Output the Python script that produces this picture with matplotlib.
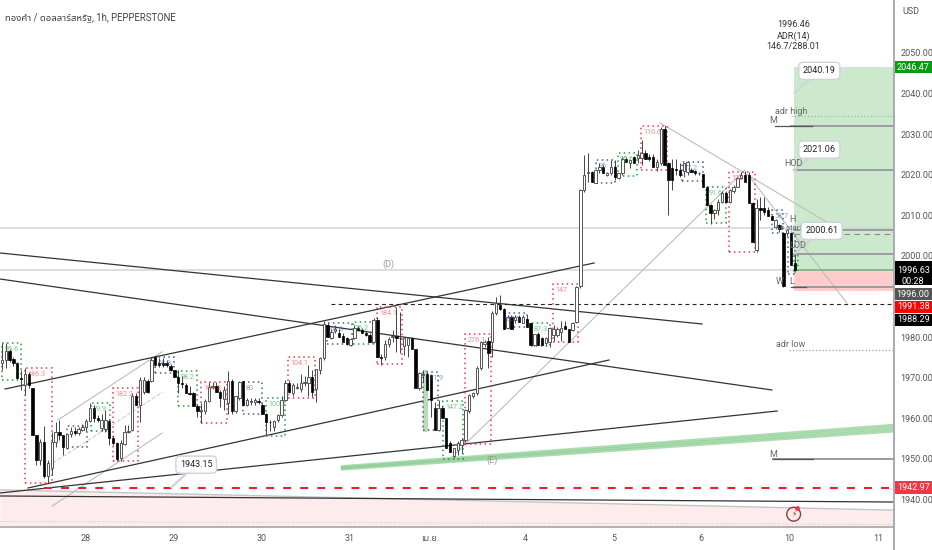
import matplotlib
matplotlib.use('Agg')
import matplotlib.pyplot as plt
from matplotlib.patches import Rectangle, Ellipse
import numpy as np
import logging

logging.getLogger('matplotlib.font_manager').setLevel(logging.ERROR)
plt.rcParams['font.family'] = ['Roboto', 'Noto Sans Thai', 'IBM Plex Sans Thai', 'DejaVu Sans']

# candles, one (open, high, low, close) per hour
candles = [
    (1973.6,1978.5,1971.9,1974.4),(1974.4,1978.5,1972.3,1976.7),(1976.7,1977,1974,1974.4),(1974.6,1975,1973,1973.6),
    (1973.6,1974,1969.8,1969.9),(1969.9,1971.9,1967,1969.6),(1968.2,1972.3,1965.8,1970.9),(1970.9,1971.5,1967.4,1968.2),
    (1967.4,1967.6,1955.9,1955.9),(1955.9,1956,1948.6,1949.8),(1949.8,1955,1948.6,1954.3),(1954.3,1958.1,1945.2,1945.7),
    (1945.8,1949.8,1944,1949.1),(1947.7,1956.7,1946,1954.1),(1954.1,1959.2,1953,1956.7),(1956.7,1959.6,1954.7,1955.9),
    (1955.9,1955.9,1951,1953),(1952.6,1956.2,1952.4,1956.2),(1956.2,1958,1955.5,1957),(1957,1958,1956,1956.3),
    (1956.5,1958,1956,1957.3),(1957.1,1958.5,1956.8,1958),(1957.8,1959.8,1957,1959.4),(1959.4,1963.9,1959.2,1962.5),
    (1962.5,1963.2,1959.2,1960),(1960.2,1960.8,1959.2,1959.6),(1957.6,1961,1957,1959.6),(1957.3,1962.1,1956.7,1959.6),
    (1959.4,1959.8,1953.4,1955.1),(1955.1,1955.9,1953.4,1954),(1953.9,1954.2,1949.4,1949.9),(1950.2,1954.7,1949.6,1954),
    (1953.7,1958.4,1953.4,1956.7),(1956.6,1958.4,1956.3,1956.9),(1957.1,1966.2,1956.9,1965.4),(1965.4,1966.2,1963.2,1963.3),
    (1963.3,1970.1,1959.2,1969.5),(1966.6,1970.3,1966,1969.5),(1969.1,1969.8,1966.2,1966.4),(1969.1,1975,1968.9,1974.5),
    (1975,1975.4,1973,1973.2),(1973.6,1974.8,1972.7,1973.2),(1973.6,1974.8,1972.7,1973.2),(1973.6,1974.4,1972.7,1973.2),
    (1972.9,1973.5,1971.7,1971.8),(1971.8,1972,1970.2,1970.3),(1970.3,1971.9,1966.3,1968.6),(1968.6,1970.5,1967.5,1968.5),
    (1968.2,1968.6,1966.2,1966.3),(1966.3,1968,1965.8,1966),(1966.2,1966.5,1963,1963),(1963,1963.5,1960.4,1961.7),
    (1961.7,1963.7,1958.8,1962.1),(1961.7,1964.8,1961,1964.4),(1964.4,1969,1964,1967.8),(1967.7,1968.9,1967.3,1968),
    (1968,1968.9,1966.5,1966.6),(1966.6,1967,1962.9,1965),(1964.8,1968,1962,1967),(1963.7,1971.7,1961,1969.2),
    (1969.2,1969.8,1961,1961.9),(1961.7,1965.6,1961.3,1965.4),(1965,1969.1,1964.5,1969),(1969.2,1969.3,1963.3,1963.3),
    (1963.3,1965,1963,1964.5),(1964,1965,1963.3,1964.3),(1964.1,1965,1963.2,1964.5),(1964.3,1965,1963.5,1964),
    (1963.3,1963.8,1961.2,1961.2),(1961.2,1961.4,1955.9,1959.2),(1959.2,1959.6,1956.8,1959),(1958,1959.5,1957,1959.4),
    (1959.6,1961.2,1959.2,1960.8),(1960.8,1965.4,1960.4,1964.5),(1964.5,1969.5,1964.3,1968.6),(1968.6,1969.5,1966.2,1966.6),
    (1966.2,1968.6,1965.6,1968.2),(1967.6,1968.6,1967.2,1967.8),(1967.2,1970.9,1966.6,1968.8),(1968.6,1970.5,1968,1968.9),
    (1968.6,1973.2,1965.5,1970.3),(1970.3,1971.9,1965.3,1966.6),(1967.2,1972.1,1964.1,1972.1),(1972,1975.2,1971,1974.8),
    (1974.8,1984,1974.5,1983.2),(1983,1983.6,1980.1,1980.1),(1979.7,1982,1979.5,1981.4),(1981.6,1983,1981,1982),
    (1981,1982,1980,1980.1),(1980.4,1981,1978.9,1978.9),(1979.7,1980,1978,1978.3),(1978.1,1979.6,1977.8,1979.5),
    (1979.7,1983,1979.5,1982.2),(1982.2,1982.8,1981.5,1981.8),(1981.8,1982.3,1981,1981.1),(1981.1,1981.5,1980.4,1980.5),
    (1980.5,1981,1978.9,1978.9),(1978.9,1984.8,1978.5,1984.2),(1984.2,1984.9,1975.2,1975.2),(1975.2,1975.8,1973.1,1974.8),
    (1975.2,1979.4,1974.5,1978.3),(1978.3,1980,1977.5,1979.5),(1980,1981.8,1978.9,1980.4),(1980.3,1987.5,1976.4,1979.7),
    (1979.9,1986.3,1976,1979.7),(1977.8,1979.9,1975.5,1979.7),(1978.1,1980,1975,1979.9),(1979.7,1980,1977,1977),
    (1977.2,1977.2,1967.4,1967.4),(1967.4,1971.5,1967,1971.1),(1970.7,1971.9,1969,1970.9),(1970.9,1971.4,1967,1967),
    (1970.7,1971,1960.4,1964.5),(1962.5,1964,1957.2,1957.2),(1957.2,1964.5,1956.8,1962.5),(1962.5,1963,1960,1960),
    (1960,1960,1952.6,1952.6),(1953.9,1954.5,1951.8,1951.8),(1950.7,1952.6,1950.3,1952.6),(1952.2,1954.5,1951,1953.9),
    (1953.4,1955.2,1951.5,1954.7),(1954.7,1962.2,1954.3,1962.1),(1961.7,1966,1961.3,1965.8),(1965.5,1966.6,1965,1966.2),
    (1966.2,1973,1965.8,1972.3),(1972.3,1979,1972,1978.7),(1978.3,1979.2,1977.5,1978.9),(1979.1,1980,1972.3,1976),
    (1978.9,1986.4,1975,1985.9),(1985.9,1990,1985.5,1988.3),(1988,1990.4,1986.8,1986.9),(1986.9,1987.3,1981.9,1981.9),
    (1982.2,1985.5,1982,1985),(1985,1985.5,1981.9,1981.9),(1984.2,1985.5,1983.5,1985),(1985,1985.5,1983.8,1983.8),
    (1983.6,1985.5,1983.5,1985),(1984.6,1985.4,1982.6,1982.6),(1983.4,1983.6,1978.1,1978.1),(1978.1,1980.8,1977.8,1980.8),
    (1980.8,1981.2,1978.1,1978.1),(1979.7,1980,1978.1,1978.1),(1978.5,1980,1978,1979.7),(1978.9,1982.6,1977.6,1982.2),
    (1980.5,1983,1979,1981.9),(1980.5,1982.5,1980,1981.9),(1981.4,1984,1979,1982.2),(1982.8,1984,1981.9,1981.9),
    (1981.9,1982,1978.9,1978.9),(1981.8,1983.8,1981.5,1983.6),(1983.8,1992.5,1983.5,1992.4),(1992.5,2016.4,1992.2,2016.3),
    (2016.3,2024.9,2015.8,2020),(2020.4,2025.3,2018.3,2020.8),(2020.8,2021,2018.3,2018.3),(2018.1,2021.4,2017.9,2021.2),
    (2021.2,2023,2020.5,2021.8),(2021.8,2022.4,2020.4,2020.4),(2020,2020.8,2019.7,2020.5),(2020.4,2023.6,2020,2021.8),
    (2021.8,2023.6,2018.7,2019.5),(2019.3,2020.5,2019,2020.4),(2020.4,2024.5,2020,2024),(2023.8,2024.4,2023.2,2023.2),
    (2022.8,2024,2021.6,2023.6),(2024.3,2024.6,2022.9,2023),(2024.1,2026.1,2023,2024.9),(2024.1,2028.6,2022.5,2025.3),
    (2025.3,2026,2023.8,2023.8),(2024.4,2025,2023.4,2024),(2024.5,2025,2022,2022),(2022,2024,2021,2023.2),
    (2022.8,2031.8,2022.5,2031.4),(2031.4,2032,2022.4,2022.4),(2022.8,2023.2,2010.1,2018.7),(2021.6,2024,2016.3,2018.7),
    (2021.5,2024,2020,2021.2),(2021.2,2022.8,2019.5,2020),(2021,2023,2019.5,2023),(2020.8,2023.4,2020,2023.2),
    (2021.2,2021.6,2020.6,2020.7),(2020.9,2021.2,2020,2020.4),(2020.4,2020.8,2020,2020.5),(2020.1,2020.3,2016.9,2017),
    (2017,2017.3,2012.6,2012.6),(2012.6,2012.8,2008,2010.7),(2010.7,2011.5,2009,2011.3),(2011.3,2014,2010,2013.4),
    (2013.4,2016,2013,2015.6),(2015.6,2016,2013.4,2013.4),(2013.4,2016.6,2013,2016.3),(2015.9,2017.5,2015.6,2017.1),
    (2017.1,2019.4,2016.9,2019.1),(2019.1,2020.6,2018.9,2020),(2020,2021,2018.3,2018.3),(2020,2020.8,2013,2013),
    (2013,2013.2,2003.5,2003.5),(2001.5,2014,2001,2011.7),(2011.7,2014.6,2008.9,2011.3),(2011.7,2014.6,2010,2010.9),
    (2011.3,2012,2009.8,2009.8),(2009.8,2010,2008.8,2008.9),(2007.2,2009.2,2006.8,2008.9),(2007.6,2008,2006,2006.6),
    (2005.6,2005.8,1992.4,1992.5),(2005.6,2006.6,2005,2006.4),(2005.6,2005.8,1997.8,1997.8),(1998.2,2000.6,1996.2,1996.6),
]

# bar0, bar1, price low, price high, colour key, label
boxes = [
    (0,5,1969.5,1978.6,'g','96.6'),(6,13,1944.1,1972.4,'r','186.3'),(17,22.2,1953,1958.1,'b',''),
    (23.2,28.2,1956.9,1963.8,'g','79.9'),(29,35.5,1949.5,1967.5,'r','182.2'),(40,44.9,1971.2,1975.1,'b','68.8'),
    (46,50.9,1963.1,1971.7,'g','98.2'),(52,58.7,1958.9,1969,'r','104.8'),(62.9,67.9,1961.1,1969,'b','80'),
    (69,73.9,1955.7,1965,'g','100.2'),(74.7,81.7,1965,1975.1,'r','104.1'),(84.9,91.4,1978.3,1983.5,'b','64.6'),
    (91.6,96.9,1978.3,1983.7,'g','76.2'),(97.9,104.4,1973.4,1987.4,'r','184.1'),(109.9,113.8,1957.1,1971.4,'b','131.9'),
    (115.1,120.4,1950,1964.3,'g','147.2'),(120.9,127.7,1953.7,1980.8,'r','276.1'),(131.1,137.1,1982.5,1986,'b','85.5'),
    (138.1,143.1,1977.8,1983.5,'g','87.3'),(143.9,150.4,1978.8,1993.1,'r','147'),(155.1,160.1,2018,2023.6,'b','96'),
    (160.8,165.8,2019.7,2025.4,'g','95.6'),(166.8,173.6,2021.2,2032,'r','110.6'),(177.5,183,2018.5,2023.2,'b','77.2'),
    (183.8,189,2008.1,2017,'g','91.6'),(189.8,196.6,2001,2020.7,'r','122'),(201,203.9,2005.7,2011.3,'b','58.7'),
    (205.2,207,1995.6,2005.7,'b',''),(206.8,207.8,1996.1,2000.7,'g',''),
]
box_colors = {'g': '#1f9e3a', 'r': '#f2364a', 'b': '#3f5f9e'}

# black trend lines: bar0, price0, bar1, price1
trend_lines = [
    (-0.5,2000.74,182.8,1983.25),(-0.5,1994.33,201,1967.0),(0.8,1967.24,154.6,1998.28),
    (6.8,1942.86,158.5,1974.38),(-0.5,1941.63,202.4,1961.82),(-0.5,1940.89,232.9,1939.4),
]
# thin grey drawings
grey_lines = [
    (14.6,1959.6,41.8,1976.4),(13.1,1938.4,41.8,1956.4),(117,1950,194,2021.2),
    (171.8,2032.8,218.8,2006.4),(194.8,2020,220.6,1988.4),
]
fork_mid = (13.3,1949,42,1966.5)

y_ticks = [1940, 1950, 1960, 1970, 1980, 2000, 2010, 2020, 2030, 2040, 2050]
y_tick_labels = ['1940.00','1950.00','1960.00','1970.00','1980.00','2000.00','2010.00','2020.00','2030.00','2040.00','2050.00']
x_ticks = [21.9, 44.9, 67.9, 90.9, 111.7, 136.7, 159.7, 182.5, 205.7, 228.7]
x_tick_labels = ['28', '29', '30', '31', 'เม.ย.', '4', '5', '6', '10', '11']

tp_price, sl_price, entry_price = 2046.47, 1991.38, 1996.0
last_price, dash_price, red_price = 1996.63, 1988.29, 1942.97

fig = plt.figure(figsize=(9.32, 5.5), dpi=100)
ax = fig.add_axes([0, 23 / 550, 894 / 932, 527 / 550])
ax.set_xlim(-0.52, 232.9)
ax.set_ylim(1933.25, 2063.05)

# position box
ax.add_patch(Rectangle((206.9, entry_price), 26, tp_price - entry_price, fc='#cde9cd', ec='none', zorder=1))
ax.add_patch(Rectangle((206.9, sl_price), 26, entry_price - sl_price, fc='#ffcccc', ec='none', zorder=1))

# pink band at the bottom
band_x = np.array([-0.52, 232.9])
band_top = np.array([1942.4, 1937.4])
ax.fill_between(band_x, band_top, 1933.5, color='#fdecec', lw=0, zorder=1)
ax.plot(band_x, band_top, color='#c4c4c4', lw=1, zorder=2)
ax.plot(band_x, [1934.6, 1933.9], color='#e0d0d0', lw=0.6, ls='--', zorder=2)

# long grey levels
for p in [2006.9, 1996.55]:
    ax.axhline(p, color='#d4d4d4', lw=1.1, zorder=2)

for b0, p0, b1, p1 in grey_lines:
    ax.plot([b0, b1], [p0, p1], color='#bdbdbd', lw=0.8, zorder=2)
ax.plot(fork_mid[0::2], fork_mid[1::2], color='#d0d0d0', lw=0.8, ls='--', zorder=2)

# green band, three strokes fanning out slightly
for off0, off1 in [(-0.3, -0.7), (0, 0), (0.3, 0.7)]:
    ax.plot([88.5, 232.9], [1947.8 + off0, 1957.6 + off1], color='#8fcf95', lw=2.2, alpha=0.75,
            solid_capstyle='butt', zorder=2)

for b0, p0, b1, p1 in trend_lines:
    ax.plot([b0, b1], [p0, p1], color='#333333', lw=0.9, zorder=3)

ax.plot([85.9, 232.9], [dash_price, dash_price], color='#222222', lw=0.8, ls=(0, (3.5, 3)), zorder=3)
ax.plot([11.0, 232.9], [red_price, red_price], color='#ee1c30', lw=1.5, ls=(0, (3.8, 4.4)), zorder=3)

# green tinted bar in front of the sell-off
ax.add_patch(Rectangle((109.9, 1956.9), 1.1, 15, fc='#b9dcb9', ec='#9dca9d', lw=0.4, zorder=3))

for b0, b1, lo, hi, key, label in boxes:
    c = box_colors[key]
    ax.add_patch(Rectangle((b0, lo), b1 - b0, hi - lo, fc='none', ec=c, lw=1.1, ls=(0, (1, 2.2)), zorder=4))
    if label:
        ax.text(b0 + 0.6, hi - 0.7, label, color=c, fontsize=5.2, alpha=0.6, va='top', zorder=6)

# candles
o, h, l, c = np.array(candles).T
bars = np.arange(len(candles))
up = c >= o
ax.vlines(bars, l, h, color='#444444', lw=0.7, zorder=5)
ax.bar(bars[up], (c - o)[up], bottom=o[up], width=0.62, fc='white', ec='#555555', lw=0.7, zorder=5)
ax.bar(bars[~up], (o - c)[~up], bottom=c[~up], width=0.62, fc='black', ec='black', lw=0.5, zorder=5)

# levels inside the position box
for p, b0 in [(2032.1, 206), (2021.06, 206.9), (2006.4, 206.9), (2000.61, 206.9), (1992.4, 206.9), (1949.9, 201.4)]:
    ax.plot([b0, 232.9], [p, p], color='#9b9ba0', lw=1.4, zorder=4)
ax.plot([206.9, 232.9], [1996.5, 1996.5], color='#7fae7f', lw=1.2, zorder=4)
ax.plot([206.9, 232.9], [2005.4, 2005.4], color='#8a8a8a', lw=0.8, ls=(0, (5, 4)), zorder=4)
for b0, b1, p in [(201.8, 211.5, 2032.1), (206, 210, 1992.4), (201.4, 211.7, 1949.9)]:
    ax.plot([b0, b1], [p, p], color='#555555', lw=0.9, zorder=5)
ax.plot([206, 232.9], [2034.4, 2034.4], color='#b0b0b0', lw=0.9, ls=':', zorder=4)
ax.plot([205.6, 232.9], [1976.85, 1976.85], color='#a0a0a0', lw=0.9, ls=':', zorder=4)

lab = dict(color='#666666', fontsize=6.5, ha='left', va='center', zorder=9)
ax.text(201.8, 2035.6, 'adr high', **lab)
ax.text(200.2, 2033.3, 'M', **lab)
ax.text(204.2, 2022.7, 'HOD', **lab)
ax.text(205.5, 2002.5, 'LOD', **lab)
ax.text(201.8, 2006.9, 'Mr.start', color='#666666', fontsize=5.5, ha='left', va='center', zorder=7)
ax.text(205.6, 2009, 'H', **lab)
ax.text(202, 1993.6, 'W', **lab)
ax.text(205.5, 1993.6, 'L', **lab)
ax.text(202, 1978.3, 'adr low', **lab)
ax.text(200.2, 1951, 'M', **lab)
ax.text(101, 1998, '(D)', color='#9a9a9a', fontsize=6.5, ha='center', va='center', zorder=7)
ax.text(128, 1949.6, '(E)', color='#9a9a9a', fontsize=6.5, ha='center', va='center', zorder=7)

# callouts with a little tail
callouts = [
    ('1943.15', 44.2, 1943.0, 50.7, 1948.6),
    ('2040.19', 206.9, 2040.19, 213.4, 2045.6),
    ('2021.06', 206.9, 2021.06, 213.4, 2026.2),
    ('2000.61', 207.0, 2000.61, 214, 2006.2),
]
for txt, b, p, tb, tp in callouts:
    ax.annotate(txt, xy=(b, p), xytext=(tb, tp), ha='center', va='center', fontsize=6.5, color='#222222', zorder=8,
                bbox=dict(boxstyle='round,pad=0.45', fc='white', ec='#cdd2dc', lw=1),
                arrowprops=dict(arrowstyle='-', color='#cdd2dc', lw=1.6, shrinkA=0, shrinkB=0))

# top texts
ax.text(0.8, 2058.6, 'ทองคำ / ดอลลาร์สหรัฐ, 1h, PEPPERSTONE', fontsize=6.9, color='#444444', va='center')
for txt, p in [('1996.46', 2057.0), ('ADR(14)', 2054.2), ('146.7/288.01', 2051.5)]:
    ax.text(206.6, p, txt, fontsize=6.5, color='#333333', ha='center', va='center')

# news flash icon
ax.add_patch(Ellipse((206.7, 1936.4), 3.6, 3.4, fc='none', ec='#8a3a48', lw=1, zorder=7))
ax.text(206.7, 1936.4, '\u26a1', color='#8a3a48', fontsize=5.5, ha='center', va='center', family='DejaVu Sans', zorder=7)
ax.plot([207.7], [1937.9], 'o', ms=2.5, color='#f2364a', zorder=8)

# axes
for s in ['top', 'left', 'right']:
    ax.spines[s].set_visible(False)
ax.spines['bottom'].set_color('#a3a6af')
ax.spines['bottom'].set_linewidth(1.2)
ax.plot([1, 1], [-23 / 527, 1], transform=ax.transAxes, clip_on=False, color='#a3a6af', lw=1.3, zorder=9)
ax.yaxis.tick_right()
ax.set_yticks(y_ticks)
ax.set_yticklabels(y_tick_labels)
ax.set_xticks(x_ticks)
ax.set_xticklabels(x_tick_labels)
ax.tick_params(axis='both', length=0, labelsize=6.5, labelcolor='#555555')
ax.tick_params(axis='y', pad=4.5)
ax.tick_params(axis='x', pad=5)
ax.text(1.009, 2060.3, 'USD', transform=ax.get_yaxis_transform(), fontsize=6.5, color='#555555', va='center')

# price tags on the right scale
tags = [
    (tp_price, '#0b9a12', '2046.47', 1.5),
    (entry_price, '#555555', '1996.00', 1.5),
    (sl_price, '#ff0000', '1991.38', 1.5),
    (dash_price, '#000000', '1988.29', 1.5),
    (red_price, '#f23645', '1942.97', 1.5),
]
tag_x = ax.get_yaxis_transform()
tag_offset = {entry_price: -5.45, sl_price: -3.9, dash_price: -4.0}
for p, col, txt, half in tags:
    yc = p + tag_offset.get(p, 0)
    ax.add_patch(Rectangle((1.001, yc - half), 37 / 894, 2 * half, transform=tag_x, fc=col, ec='none', clip_on=False, zorder=9))
    ax.text(1.0215, yc, txt, transform=tag_x, color='white', fontsize=6.5, ha='center', va='center', zorder=10)
ax.add_patch(Rectangle((1.001, 1992.85), 37 / 894, 5.9, transform=tag_x, fc='#000000', ec='none', clip_on=False, zorder=9))
ax.text(1.0215, last_price - 0.3, '1996.63', transform=tag_x, color='white', fontsize=6.5, ha='center', va='center', zorder=10)
ax.text(1.0215, 1993.7, '00:28', transform=tag_x, color='white', fontsize=6.5, ha='center', va='center', zorder=10)

fig.savefig('out.png', dpi=100)
